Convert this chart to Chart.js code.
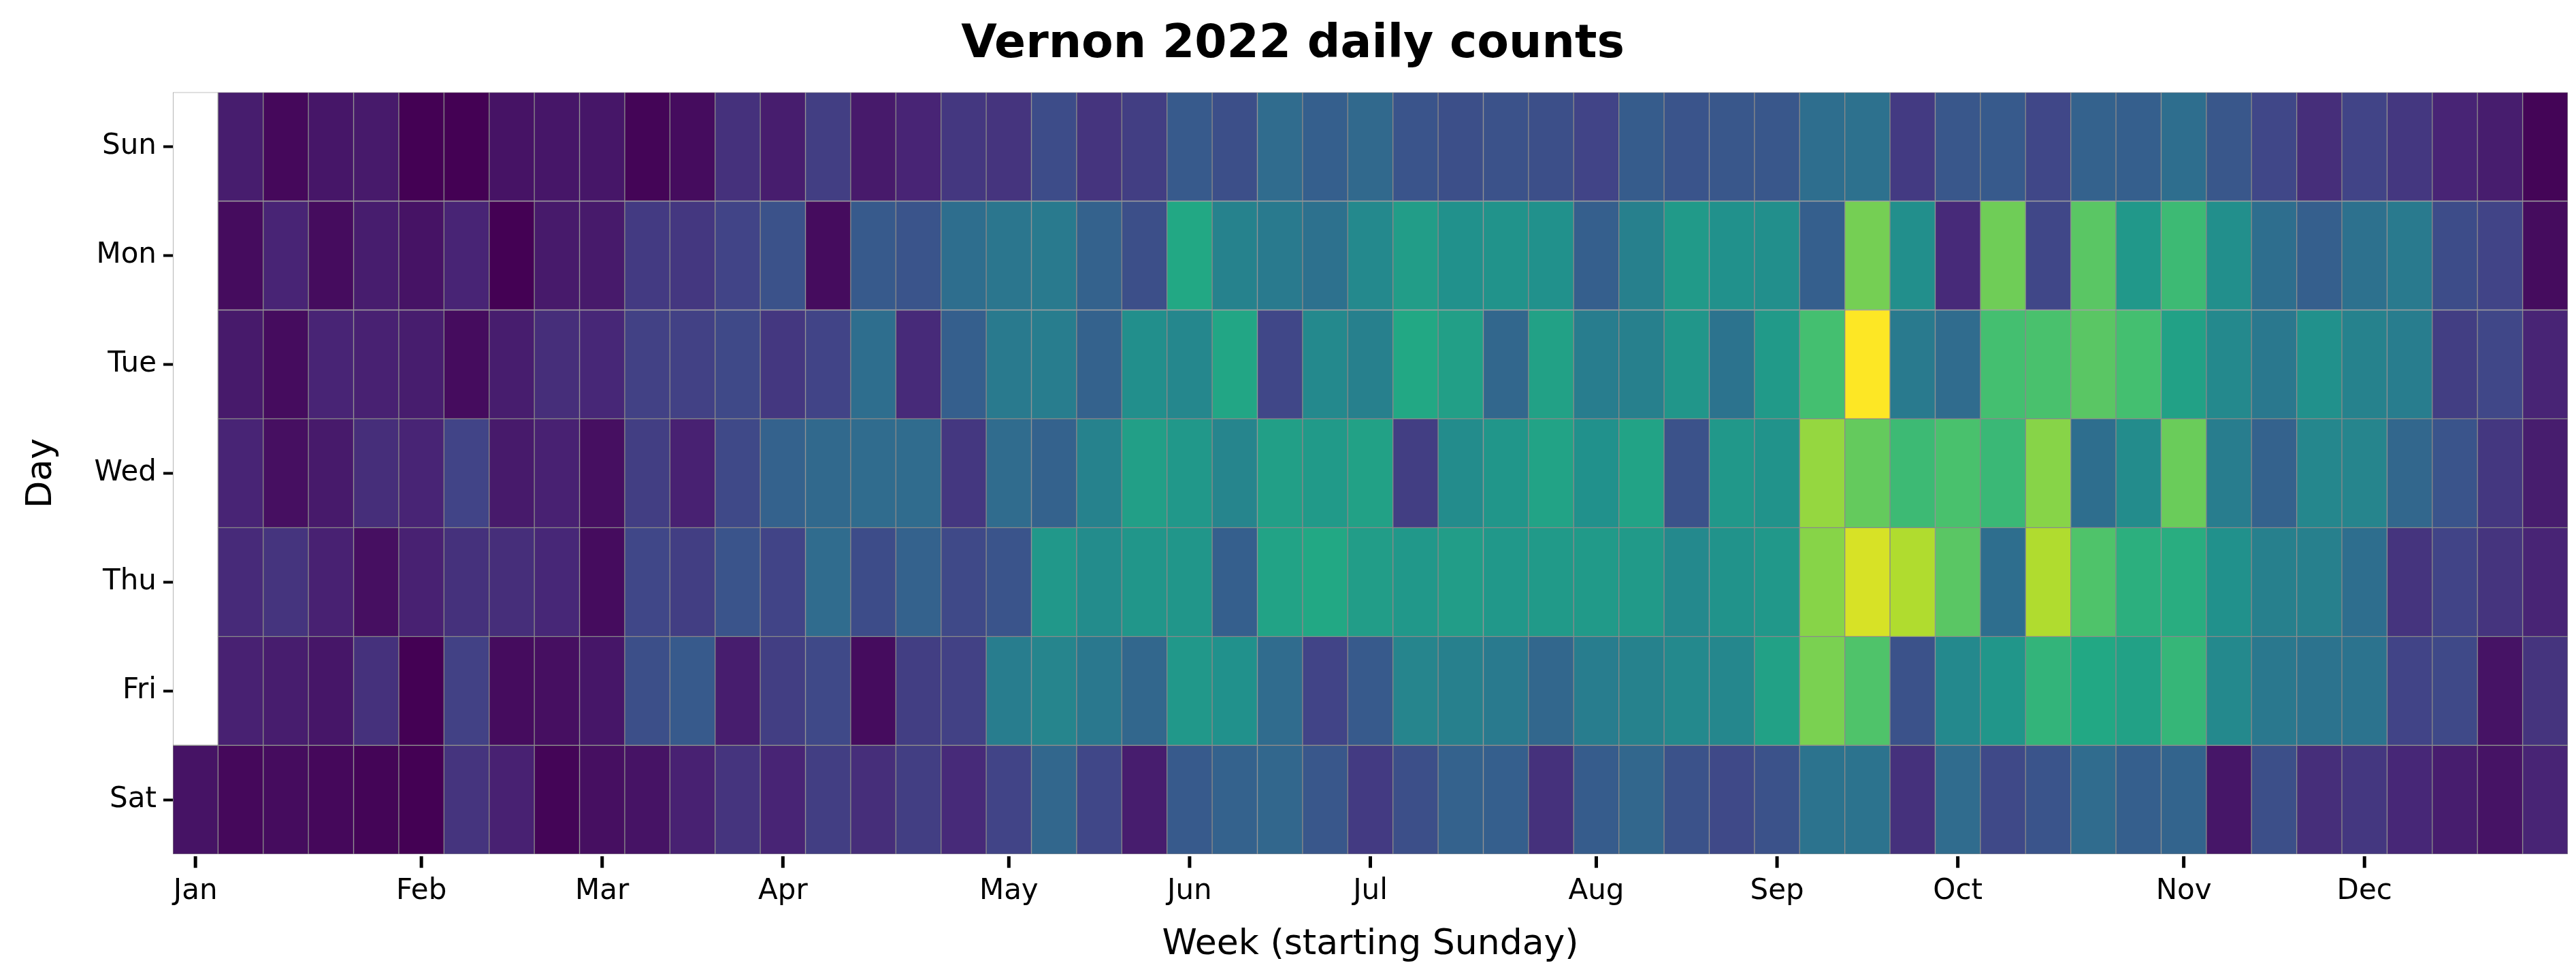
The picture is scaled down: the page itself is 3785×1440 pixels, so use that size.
<!DOCTYPE html>
<html><head><meta charset="utf-8">
<script src="https://cdn.jsdelivr.net/npm/chart.js@4/dist/chart.umd.min.js"></script>
<style>html,body{margin:0;padding:0;background:#fff}#wrap{width:3785px;height:1440px}</style>
</head><body><div id="wrap"><canvas id="c"></canvas></div>
<script>
const days = ['Sun','Mon','Tue','Wed','Thu','Fri','Sat'];
const weeks = Array.from({length:53}, (_, i) => i);
const monthLabels = ['Jan','Feb','Mar','Apr','May','Jun','Jul','Aug','Sep','Oct','Nov','Dec'];
const monthWeeks = [0,5,9,13,18,22,26,31,35,39,44,48];
// relative daily intensity (0 = min, 1 = max), per weekday, by week
const sun = [null,0.08,0.02,0.06,0.07,0.0,0.0,0.05,0.06,0.06,0.01,0.03,0.14,0.08,0.18,0.07,0.1,0.16,0.15,0.23,0.15,0.18,0.28,0.24,0.35,0.3,0.34,0.26,0.24,0.25,0.24,0.2,0.29,0.26,0.27,0.27,0.36,0.37,0.17,0.27,0.28,0.21,0.31,0.3,0.36,0.27,0.21,0.13,0.2,0.16,0.1,0.08,0.01];
const mon = [null,0.03,0.1,0.03,0.08,0.05,0.1,0.0,0.07,0.07,0.17,0.16,0.2,0.25,0.03,0.28,0.26,0.36,0.39,0.41,0.31,0.24,0.6,0.44,0.41,0.37,0.47,0.55,0.5,0.51,0.5,0.3,0.43,0.54,0.5,0.49,0.3,0.79,0.49,0.12,0.78,0.21,0.74,0.53,0.68,0.49,0.36,0.3,0.37,0.41,0.23,0.2,0.03];
const tue = [null,0.07,0.03,0.1,0.09,0.08,0.03,0.08,0.13,0.11,0.19,0.19,0.22,0.16,0.2,0.36,0.12,0.3,0.41,0.42,0.31,0.49,0.46,0.59,0.21,0.47,0.43,0.6,0.56,0.33,0.57,0.42,0.43,0.52,0.38,0.54,0.7,1.0,0.41,0.35,0.7,0.71,0.74,0.7,0.57,0.47,0.4,0.5,0.44,0.42,0.18,0.21,0.1];
const wed = [null,0.1,0.04,0.07,0.13,0.1,0.2,0.07,0.09,0.04,0.18,0.09,0.22,0.31,0.34,0.35,0.35,0.16,0.35,0.31,0.44,0.56,0.53,0.45,0.56,0.54,0.57,0.18,0.48,0.52,0.58,0.5,0.58,0.25,0.53,0.51,0.84,0.76,0.68,0.71,0.67,0.82,0.36,0.48,0.77,0.42,0.31,0.46,0.45,0.33,0.26,0.16,0.08];
const thu = [null,0.12,0.15,0.09,0.04,0.09,0.14,0.13,0.11,0.03,0.21,0.18,0.26,0.2,0.35,0.23,0.31,0.22,0.26,0.53,0.48,0.52,0.52,0.3,0.58,0.6,0.55,0.53,0.55,0.53,0.54,0.54,0.54,0.47,0.51,0.53,0.82,0.94,0.88,0.74,0.36,0.88,0.72,0.63,0.62,0.5,0.43,0.43,0.36,0.15,0.2,0.15,0.1];
const fri = [null,0.09,0.08,0.06,0.14,0.0,0.19,0.03,0.04,0.06,0.24,0.28,0.08,0.18,0.22,0.03,0.18,0.19,0.42,0.45,0.4,0.33,0.53,0.5,0.35,0.2,0.28,0.45,0.43,0.41,0.33,0.42,0.44,0.47,0.46,0.57,0.8,0.72,0.25,0.47,0.52,0.65,0.6,0.57,0.66,0.47,0.4,0.38,0.38,0.2,0.22,0.05,0.15];
const sat = [0.05,0.02,0.03,0.02,0.01,0.0,0.15,0.09,0.01,0.04,0.05,0.09,0.15,0.1,0.18,0.13,0.18,0.12,0.2,0.33,0.21,0.08,0.28,0.31,0.33,0.27,0.17,0.24,0.31,0.3,0.14,0.29,0.33,0.25,0.22,0.25,0.38,0.38,0.14,0.35,0.22,0.26,0.35,0.3,0.32,0.06,0.24,0.13,0.16,0.11,0.08,0.05,0.1];
const rows = [sun, mon, tue, wed, thu, fri, sat];

const viridis = ['#440154','#482475','#414487','#355f8d','#2a788e','#21918c','#22a884','#44bf70','#7ad151','#bddf26','#fde725'];
function hex(h){return [1,3,5].map(i=>parseInt(h.substr(i,2),16));}
function cmap(v){
  if (v == null) return '#ffffff';
  const t = Math.max(0, Math.min(1, v)) * 10, i = Math.min(9, Math.floor(t)), f = t - i;
  const a = hex(viridis[i]), b = hex(viridis[i+1]);
  return 'rgb(' + a.map((x,k)=>Math.round(x + (b[k]-x)*f)).join(',') + ')';
}
const cellStyle = { borderColor: '#8a8a8a', borderWidth: 1, borderSkipped: false, barPercentage: 1, categoryPercentage: 1, grouped: false };

const datasets = rows.map((vals, d) => Object.assign({
  label: days[d],
  data: vals.map(v => v == null ? null : [d, d + 1]),
  backgroundColor: vals.map(cmap)
}, cellStyle));
// white blank cells for days outside 2022
datasets.push(Object.assign({
  label: 'blank',
  data: weeks.map(w => {
    const ds = rows.map((r, d) => r[w] == null ? d : -1).filter(d => d >= 0);
    return ds.length ? [Math.min(...ds), Math.max(...ds) + 1] : null;
  }),
  backgroundColor: '#ffffff'
}, cellStyle));

// tick marks under month labels, placed with the x scale
const xTickMarks = {
  id: 'xTickMarks',
  afterDraw(chart) {
    const sx = chart.scales.x, ctx = chart.ctx, y0 = chart.chartArea.bottom;
    ctx.save(); ctx.fillStyle = '#000';
    monthWeeks.forEach(w => {
      const px = sx.getPixelForValue(w);
      ctx.fillRect(px - 2.5, y0 + 3, 5, 17);
    });
    ctx.restore();
  }
};

Chart.defaults.font.family = 'DejaVu Sans';
Chart.defaults.color = '#000';
new Chart(document.getElementById('c'), {
  type: 'bar',
  data: { labels: weeks, datasets },
  plugins: [xTickMarks],
  options: {
    responsive: true, maintainAspectRatio: false, animation: false,
    layout: { padding: { left: 26, right: 12, top: 14, bottom: 16 } },
    plugins: {
      legend: { display: false }, tooltip: { enabled: false },
      title: { display: true, text: 'Vernon 2022 daily counts', font: { size: 68, weight: 'bold' }, padding: { top: 12, bottom: 28 } }
    },
    scales: {
      x: {
        offset: true,
        grid: { display: false },
        border: { display: false },
        afterBuildTicks: s => { s.ticks = monthWeeks.map(v => ({ value: v })); },
        ticks: { autoSkip: false, maxRotation: 0, font: { size: 42 }, padding: 22,
          callback: (v) => monthLabels[monthWeeks.indexOf(v)] },
        title: { display: true, text: 'Week (starting Sunday)', font: { size: 52 }, padding: { top: 0 } }
      },
      y: {
        min: 0, max: 7, reverse: true,
        grid: { display: true, drawOnChartArea: false, tickLength: 14, tickWidth: 4, tickColor: '#000' },
        border: { display: false },
        afterBuildTicks: s => { s.ticks = days.map((_, i) => ({ value: i + 0.5 })); },
        ticks: { autoSkip: false, font: { size: 42 }, padding: 10,
          callback: (v) => days[Math.floor(v)] },
        title: { display: true, text: 'Day', font: { size: 52 }, padding: { bottom: 36 } }
      }
    }
  }
});
</script></body></html>
